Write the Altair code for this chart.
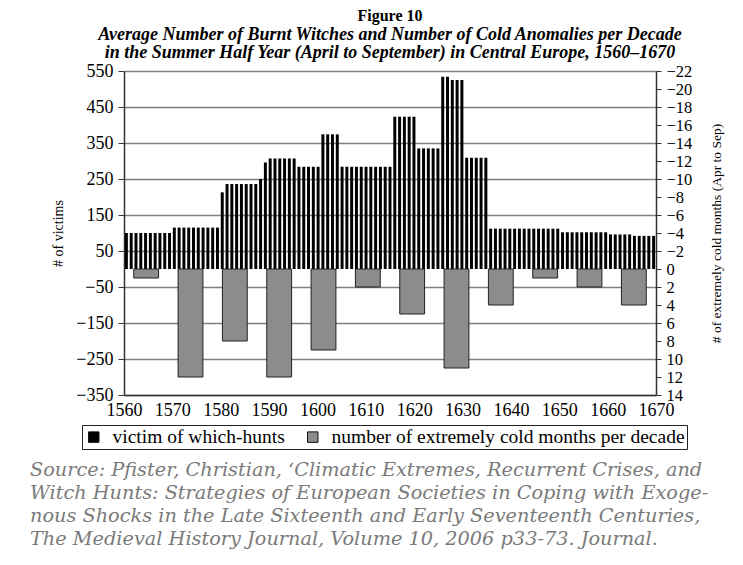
import altair as alt
import pandas as pd

# ---------------- data ----------------
years = list(range(1560, 1671))
victims = (
    [100] * 10 +                                        # 1560-1569
    [115] * 10 +                                        # 1570-1579
    [213] + [236] * 7 + [250, 296] +                    # 1580-1589
    [307] * 6 + [284] * 4 +                             # 1590-1599
    [284] + [374] * 4 + [284] * 5 +                     # 1600-1609
    [284] * 6 + [423] * 4 +                             # 1610-1619
    [423] + [335] * 5 + [534] * 2 + [525] * 2 +         # 1620-1629
    [525] + [309] * 5 + [112] * 4 +                     # 1630-1639
    [112] * 10 +                                        # 1640-1649
    [112] + [102] * 9 +                                 # 1650-1659
    [102] + [96] * 5 + [92] * 4 +                       # 1660-1669
    [92]                                                # 1670
)
decades = [1560, 1570, 1580, 1590, 1600, 1610, 1620, 1630, 1640, 1650, 1660, 1670]
cold_months = [1, 12, 8, 12, 9, 2, 5, 11, 4, 1, 2, 4]

series_names = ["victim of which-hunts", "number of extremely cold months per decade"]
x_ticks = decades
left_ticks = list(range(-350, 551, 100))
right_ticks = list(range(-22, 15, 2))

title_main = "Figure 10"
title_sub = [
    "Average Number of Burnt Witches and Number of Cold Anomalies per Decade",
    "in the Summer Half Year (April to September) in Central Europe, 1560\u20131670",
]
source_lines = [
    "Source: Pfister, Christian, \u2018Climatic Extremes, Recurrent Crises, and",
    "Witch Hunts: Strategies of European Societies in Coping with Exoge-",
    "nous Shocks in the Late Sixteenth and Early Seventeenth Centuries,",
    "The Medieval History Journal, Volume 10, 2006 p33-73. Journal.",
]

SERIF = "Liberation Serif"

df_v = pd.DataFrame({"year": years, "victims": victims, "series": series_names[0]})
df_c = pd.DataFrame({"decade": decades, "cold": cold_months, "series": series_names[1]})
df_x = pd.DataFrame({"tick": x_ticks})

color = alt.Color(
    "series:N",
    scale=alt.Scale(domain=series_names, range=["#000000", "#8c8c8c"]),
    legend=alt.Legend(
        title=None,
        orient="none",
        legendX=-42,
        legendY=354,
        direction="horizontal",
        symbolType="square",
        symbolSize=110,
        symbolStrokeColor="#111111",
        symbolStrokeWidth=1,
        labelFont=SERIF,
        labelFontSize=19.5,
        labelColor="black",
        labelLimit=0,
        labelOffset=9,
        columnPadding=18,
        strokeColor="#222222",
        padding=2,
    ),
)

black = alt.Chart(df_v).mark_bar(color="black").encode(
    x=alt.X("year:O", scale=alt.Scale(paddingInner=0.38, paddingOuter=0.19), axis=None),
    y=alt.Y(
        "victims:Q",
        scale=alt.Scale(domain=[-350, 550], nice=False),
        axis=alt.Axis(
            orient="left",
            values=left_ticks,
            title="# of victims",
            titleFontSize=14,
            titlePadding=10,
            labelFontSize=18,
            labelPadding=5,
            labelOverlap=False,
            tickSize=6,
            tickColor="#333333",
            domainColor="#333333",
            domainWidth=1.5,
            gridColor="#808080",
            gridWidth=1.4,
        ),
    ),
    color=color,
)

grey = alt.Chart(df_c).mark_bar(stroke="#222222", strokeWidth=1).encode(
    x=alt.X("decade:O", scale=alt.Scale(paddingInner=0.44, paddingOuter=0.22), axis=None),
    y=alt.Y(
        "cold:Q",
        scale=alt.Scale(domain=[-22, 14], reverse=True, nice=False),
        axis=alt.Axis(
            orient="right",
            values=right_ticks,
            title="# of extremely cold months (Apr to Sep)",
            titleAngle=270,
            titleFontSize=13.5,
            titlePadding=32,
            labelFontSize=16.5,
            labelPadding=5,
            labelOverlap=False,
            tickSize=5,
            tickColor="#333333",
            domainColor="#333333",
            domainWidth=1.5,
            grid=False,
        ),
    ),
    color=color,
)

xaxis = alt.Chart(df_x).mark_point(opacity=0).encode(
    x=alt.X(
        "tick:Q",
        scale=alt.Scale(domain=[1560, 1670], nice=False, zero=False),
        axis=alt.Axis(
            values=x_ticks,
            format="d",
            title=None,
            ticks=False,
            grid=False,
            labelFlush=False,
            labelOverlap=False,
            labelFontSize=18,
            labelPadding=6,
            domainColor="#333333",
            domainWidth=1.5,
        ),
    ),
    y=alt.value(0),
)

source = alt.Chart(alt.Data(values=[{"k": 1}])).mark_text(
    text=source_lines,
    align="left",
    baseline="alphabetic",
    font="DejaVu Serif",
    fontStyle="italic",
    fontSize=19.3,
    lineHeight=23,
    color="#7a7a7a",
).encode(x=alt.value(-94), y=alt.value(405))

chart = (
    alt.layer(black, grey, xaxis, source)
    .resolve_scale(x="independent", y="independent")
    .properties(
        width=532,
        height=324,
        autosize=alt.AutoSizeParams(type="none"),
        padding={"left": 116, "top": 63, "right": 79, "bottom": 158},
        title=alt.TitleParams(
            text=title_main,
            subtitle=title_sub,
            font=SERIF,
            fontSize=16,
            fontWeight="bold",
            color="black",
            subtitleFont=SERIF,
            subtitleFontSize=18,
            subtitleFontStyle="italic",
            subtitleFontWeight="bold",
            subtitleColor="black",
            subtitleLineHeight=18.5,
            subtitlePadding=2,
            anchor="middle",
            offset=0,
        ),
    )
    .configure_view(stroke=None)
    .configure_axis(
        labelFont=SERIF,
        titleFont=SERIF,
        labelColor="black",
        titleColor="black",
        titleFontWeight="normal",
    )
)

chart.save("out.html", embed_options={"renderer": "svg", "actions": False})
